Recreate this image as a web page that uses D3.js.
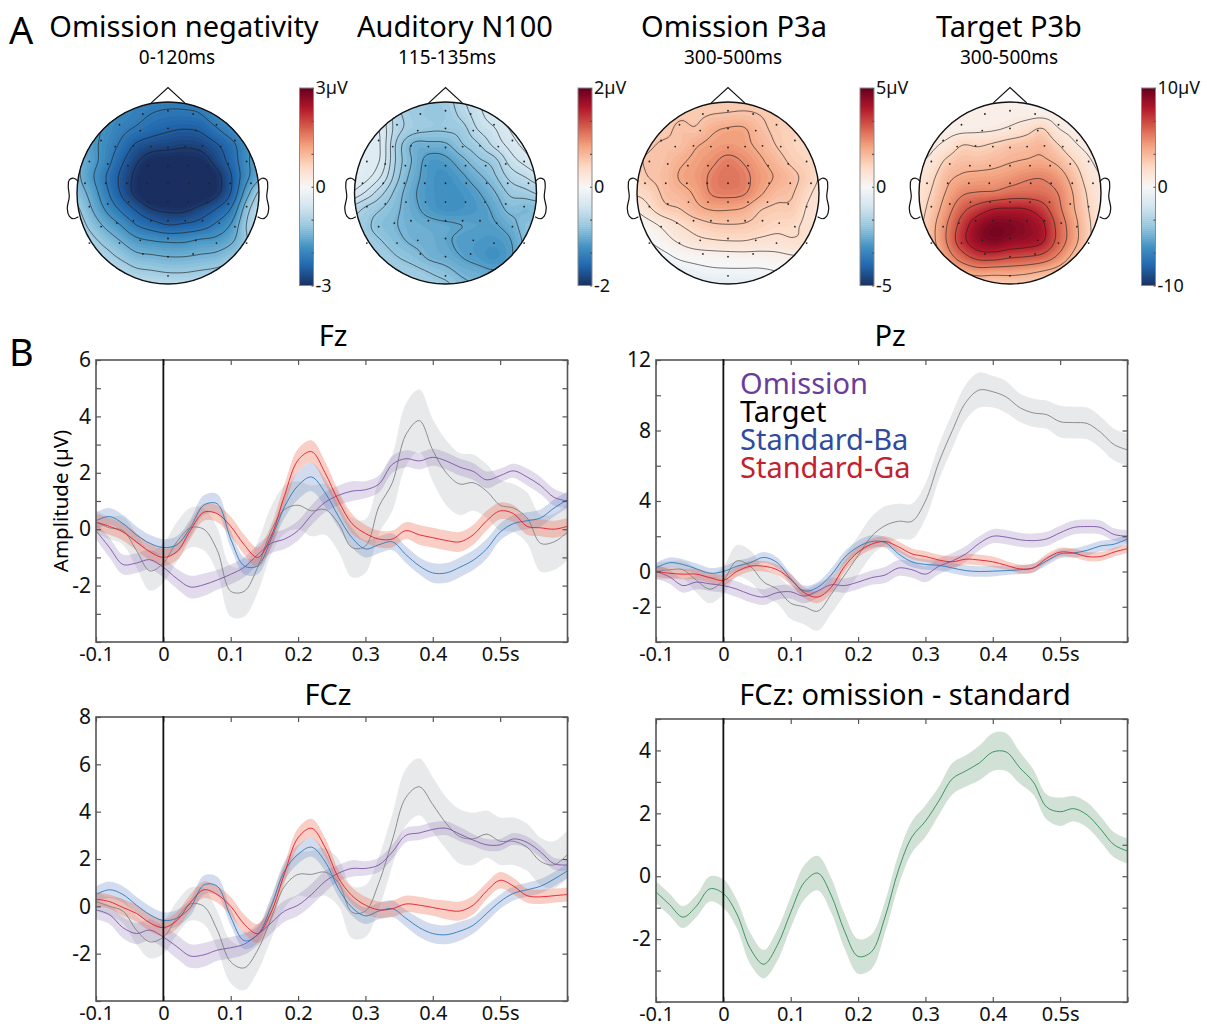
<!DOCTYPE html>
<html>
<head>
<meta charset="utf-8">
<script src="https://cdnjs.cloudflare.com/ajax/libs/d3/7.8.5/d3.min.js"></script>
<style>
  body { margin: 0; background: #fff; }
  svg { display: block; font-family: "Noto Sans", sans-serif; }
  .tick line { stroke: #555; stroke-width: 1.2; }
  .domain { display: none; }
  .tick text { fill: #111; }
</style>
</head>
<body>
<script>
// time base of the ERP panels (seconds)
const times = [-0.1,-0.08,-0.06,-0.04,-0.02,0,0.02,0.04,0.06,0.08,0.1,0.12,0.14,0.16,0.18,0.2,0.22,0.24,0.26,0.28,0.3,0.32,0.34,0.36,0.38,0.4,0.42,0.44,0.46,0.48,0.5,0.52,0.54,0.56,0.58,0.6];
const xTicks = [-0.1,0,0.1,0.2,0.3,0.4,0.5,0.6];
const xLabels = ["-0.1","0","0.1","0.2","0.3","0.4","0.5s",""];

// Fz
const fzOmission = [-0.05,-0.65,-1.25,-1.2,-1.08,-1.35,-1.75,-2.05,-1.97,-1.8,-1.6,-1.35,-0.9,-0.5,-0.35,-0.05,0.5,0.95,1.2,1.35,1.4,1.6,2.3,2.5,2.42,2.55,2.42,2.2,2.05,1.75,1.9,2.07,1.85,1.55,1.13,1.0];
const fzOmissionSe = [0.3,0.35,0.35,0.35,0.35,0.35,0.35,0.4,0.4,0.35,0.35,0.35,0.35,0.35,0.35,0.35,0.35,0.35,0.35,0.35,0.3,0.3,0.3,0.3,0.3,0.3,0.3,0.3,0.3,0.3,0.25,0.25,0.3,0.3,0.3,0.25];
const fzTarget = [0.25,0.05,-0.05,-0.75,-1.48,-1.2,-0.45,0.05,0.0,-0.75,-2.2,-2.2,-1.35,-0.05,0.7,0.85,0.65,0.7,0.2,-0.65,-0.6,0.8,1.65,3.35,3.85,2.8,2.0,1.6,1.65,1.35,0.85,0.75,0.4,-0.5,-0.45,-0.1];
const fzTargetSe = [0.4,0.4,0.5,0.6,0.7,0.7,0.7,0.7,0.75,0.8,0.9,0.9,0.9,0.85,0.85,0.85,0.9,0.9,1.0,1.05,0.95,0.95,1.0,1.1,1.1,1.1,1.15,1.1,1.0,0.95,0.9,0.85,0.9,1.0,1.0,1.0];
const fzBa = [0.3,0.45,0.2,-0.2,-0.5,-0.65,-0.55,0.05,0.85,0.9,-0.35,-1.3,-1.3,-0.35,0.8,1.55,1.85,1.3,0.45,-0.3,-0.7,-0.55,-0.45,-0.9,-1.3,-1.55,-1.55,-1.35,-1.1,-0.7,-0.1,0.2,0.3,0.4,0.75,1.05];
const fzBaSe = [0.3,0.3,0.3,0.3,0.3,0.3,0.3,0.3,0.35,0.35,0.3,0.3,0.3,0.3,0.4,0.5,0.5,0.5,0.4,0.35,0.3,0.3,0.3,0.3,0.3,0.35,0.35,0.35,0.35,0.35,0.3,0.3,0.3,0.3,0.3,0.3];
const fzGa = [0.25,0.1,-0.1,-0.45,-0.8,-1.0,-0.8,-0.05,0.6,0.55,0.1,-0.55,-1.0,-0.25,1.2,2.45,2.75,2.0,1.0,0.2,-0.15,-0.35,-0.35,-0.05,-0.2,-0.3,-0.4,-0.45,-0.2,0.3,0.65,0.55,0.1,0.05,0.0,0.1];
const fzGaSe = [0.3,0.3,0.3,0.3,0.3,0.3,0.3,0.3,0.3,0.3,0.35,0.35,0.35,0.4,0.4,0.4,0.4,0.4,0.35,0.35,0.3,0.3,0.3,0.3,0.35,0.35,0.35,0.35,0.35,0.35,0.3,0.3,0.3,0.3,0.3,0.3];

// Pz
const pzOmission = [0,-0.3,-0.8,-0.6,-0.7,-0.8,-1.0,-1.3,-1.45,-1.2,-1.15,-1.4,-1.1,-0.75,-0.8,-0.6,-0.35,-0.2,0.2,0.1,-0.15,0.3,0.6,1.0,1.6,2.0,1.95,1.8,1.75,1.85,2.2,2.5,2.55,2.5,2.1,2.0];
const pzOmissionSe = [0.4,0.4,0.4,0.4,0.4,0.4,0.45,0.45,0.45,0.4,0.4,0.4,0.4,0.4,0.4,0.4,0.4,0.45,0.45,0.45,0.45,0.45,0.45,0.45,0.4,0.4,0.4,0.4,0.4,0.4,0.4,0.4,0.4,0.4,0.35,0.35];
const pzTarget = [0,0.1,0.1,-0.5,-1.0,-0.5,0.6,0.3,-0.6,-1.0,-1.8,-2.0,-2.25,-1.3,-0.2,0.9,2.0,2.6,2.85,2.85,4.0,6.2,8.0,9.6,10.3,10.2,9.9,9.3,9.0,8.9,8.5,8.45,8.4,7.9,7.2,6.9];
const pzTargetSe = [0.5,0.5,0.5,0.7,0.8,0.8,0.9,0.9,0.8,0.8,0.9,1.0,1.1,1.1,1.1,1.1,1.1,1.1,1.0,1.0,1.0,1.0,1.0,1.0,1.0,0.9,0.9,0.8,0.8,0.8,0.9,0.9,0.9,0.9,0.9,0.9];
const pzBa = [0.2,0.5,0.4,0.15,-0.1,0,0.3,0.5,0.8,0.5,-0.4,-1.1,-0.9,-0.2,0.8,1.4,1.7,1.65,1.0,0.55,0.4,0.35,0.2,0.05,0,0.02,0.05,0.1,0.2,0.6,1.0,1.05,1.2,1.45,1.55,1.85];
const pzBaSe = [0.3,0.3,0.3,0.3,0.3,0.3,0.3,0.3,0.3,0.3,0.3,0.3,0.3,0.35,0.35,0.35,0.35,0.3,0.3,0.3,0.3,0.3,0.3,0.3,0.3,0.3,0.25,0.25,0.25,0.25,0.25,0.25,0.3,0.3,0.3,0.25];
const pzGa = [0,-0.1,-0.15,-0.15,-0.35,-0.5,0,0.3,0.3,0.1,-0.45,-1.2,-1.45,-0.9,0.3,1.1,1.55,1.7,1.4,1.0,0.85,0.65,0.55,0.7,0.65,0.55,0.35,0.15,0.2,0.75,1.1,1.05,0.85,0.85,1.1,1.3];
const pzGaSe = [0.3,0.3,0.3,0.3,0.3,0.3,0.3,0.3,0.3,0.3,0.3,0.3,0.35,0.35,0.3,0.3,0.3,0.3,0.3,0.3,0.3,0.3,0.3,0.3,0.3,0.3,0.25,0.25,0.25,0.25,0.25,0.25,0.25,0.25,0.25,0.25];

// FCz
const fczOmission = [-0.15,-0.35,-0.9,-1.15,-1.0,-1.3,-1.7,-2.1,-2.05,-1.85,-1.75,-1.6,-1.2,-0.7,-0.2,0.05,0.5,1.05,1.4,1.6,1.6,1.75,2.3,3.0,3.1,3.25,3.3,3.05,2.8,2.6,2.6,2.85,2.7,2.3,1.8,1.75];
const fczOmissionSe = [0.4,0.4,0.45,0.45,0.45,0.45,0.5,0.5,0.5,0.45,0.45,0.45,0.45,0.45,0.45,0.45,0.45,0.45,0.35,0.35,0.3,0.3,0.3,0.3,0.3,0.3,0.3,0.3,0.25,0.25,0.25,0.25,0.25,0.25,0.25,0.25];
const fczTarget = [0.2,0.0,-0.2,-1.0,-1.5,-1.3,-0.5,0.1,0.0,-1.0,-2.35,-2.6,-1.85,-0.5,0.85,1.35,1.35,1.45,1.0,-0.25,-0.2,1.0,2.8,4.6,5.05,4.3,3.5,2.95,2.85,3.05,2.75,2.75,2.5,1.9,1.75,2.2];
const fczTargetSe = [0.4,0.4,0.5,0.6,0.7,0.7,0.7,0.7,0.75,0.8,0.9,0.95,0.9,0.9,0.9,0.9,1.0,1.0,1.0,1.1,1.1,1.1,1.1,1.2,1.2,1.15,1.1,1.15,1.1,1.0,1.0,1.0,1.0,1.0,1.0,1.0];
const fczBa = [0.5,0.7,0.5,0.05,-0.35,-0.6,-0.5,-0.05,0.9,0.85,-0.45,-1.45,-1.2,0.0,1.5,2.2,2.5,1.9,0.75,-0.05,-0.4,-0.2,-0.1,-0.5,-0.9,-1.15,-1.2,-1.05,-0.8,-0.3,0.2,0.55,0.7,0.85,1.15,1.5];
const fczBaSe = [0.35,0.35,0.35,0.35,0.35,0.35,0.35,0.35,0.4,0.4,0.35,0.35,0.35,0.35,0.4,0.4,0.4,0.4,0.35,0.35,0.35,0.35,0.35,0.35,0.4,0.4,0.4,0.4,0.35,0.35,0.3,0.3,0.3,0.3,0.3,0.3];
const fczGa = [0.3,0.2,-0.05,-0.3,-0.7,-0.9,-0.6,0.15,0.7,0.5,0.0,-0.75,-1.15,-0.25,1.4,2.9,3.3,2.5,1.2,0.45,0.05,-0.15,-0.1,0.1,0.05,-0.05,-0.15,-0.2,0.05,0.65,1.1,0.85,0.45,0.4,0.45,0.5];
const fczGaSe = [0.3,0.3,0.35,0.35,0.35,0.35,0.35,0.35,0.35,0.35,0.4,0.4,0.4,0.4,0.4,0.4,0.4,0.4,0.35,0.35,0.35,0.35,0.35,0.35,0.35,0.35,0.4,0.4,0.4,0.35,0.35,0.35,0.3,0.3,0.3,0.3];

// FCz difference wave
const diffWave = [-0.5,-0.9,-1.3,-0.95,-0.4,-0.55,-1.2,-2.3,-2.8,-2.2,-1.15,-0.2,0.1,-0.6,-1.75,-2.55,-2.4,-1.3,0.2,1.25,1.75,2.4,3.1,3.35,3.6,3.95,3.95,3.45,3.0,2.2,2.05,2.15,1.95,1.5,1.0,0.8];
const diffWaveSe = [0.35,0.35,0.35,0.35,0.4,0.45,0.45,0.5,0.45,0.5,0.5,0.55,0.55,0.55,0.55,0.55,0.55,0.5,0.5,0.5,0.5,0.45,0.5,0.5,0.55,0.6,0.6,0.5,0.4,0.4,0.45,0.4,0.4,0.4,0.4,0.4];

// topographies, values on a 13x13 sheet over the head (row 0 = front)
const topoOmission = [
  [-2.05,-2.05,-2.05,-2.05,-2.05,-2.05,-2.05,-2.05,-2.05,-2.05,-2.05,-2.05,-2.05],
  [-1.75,-1.75,-1.85,-1.95,-2.05,-2.15,-2.2,-2.2,-2.15,-1.95,-1.85,-1.75,-1.75],
  [-1.55,-1.65,-1.85,-2.05,-2.2,-2.35,-2.45,-2.5,-2.45,-2.2,-1.95,-1.75,-1.55],
  [-1.45,-1.65,-1.9,-2.2,-2.55,-2.7,-2.75,-2.8,-2.75,-2.55,-2.25,-1.85,-1.55],
  [-1.35,-1.6,-1.95,-2.4,-2.8,-3.05,-3.1,-3.1,-3.05,-2.75,-2.35,-1.85,-1.5],
  [-1.3,-1.65,-2.1,-2.55,-2.95,-3.3,-3.4,-3.4,-3.3,-3.0,-2.5,-1.85,-1.45],
  [-1.2,-1.5,-2.0,-2.5,-2.95,-3.3,-3.4,-3.4,-3.25,-2.95,-2.45,-1.55,-0.9],
  [-0.95,-1.35,-1.8,-2.2,-2.55,-2.85,-2.95,-2.95,-2.75,-2.5,-2.1,-1.2,-0.7],
  [-0.8,-1.15,-1.5,-1.8,-2.15,-2.35,-2.5,-2.45,-2.35,-2.1,-1.75,-1.05,-0.7],
  [-0.75,-0.95,-1.2,-1.45,-1.7,-1.8,-1.85,-1.85,-1.75,-1.7,-1.5,-1.1,-0.8],
  [-0.75,-0.8,-0.95,-1.15,-1.35,-1.4,-1.45,-1.45,-1.4,-1.35,-1.2,-1.05,-0.85],
  [-0.7,-0.75,-0.8,-0.85,-1.0,-1.05,-1.1,-1.1,-1.05,-1.0,-0.9,-0.8,-0.75],
  [-0.65,-0.65,-0.65,-0.65,-0.7,-0.7,-0.7,-0.7,-0.7,-0.7,-0.65,-0.65,-0.65]
];
const topoN100 = [
  [-0.7,-0.7,-0.7,-0.74,-0.74,-0.74,-0.72,-0.55,-0.42,-0.3,-0.25,-0.2,-0.2],
  [-0.3,-0.3,-0.4,-0.62,-0.72,-0.76,-0.75,-0.6,-0.45,-0.32,-0.25,-0.2,-0.2],
  [-0.25,-0.25,-0.33,-0.6,-0.72,-0.76,-0.76,-0.72,-0.52,-0.42,-0.3,-0.22,-0.2],
  [-0.25,-0.25,-0.32,-0.7,-0.95,-0.97,-0.95,-0.8,-0.68,-0.5,-0.37,-0.27,-0.22],
  [-0.25,-0.25,-0.33,-0.7,-0.95,-1.15,-1.13,-0.98,-0.82,-0.72,-0.48,-0.36,-0.27],
  [-0.25,-0.27,-0.42,-0.75,-1.0,-1.17,-1.22,-1.12,-0.97,-0.82,-0.62,-0.52,-0.42],
  [-0.3,-0.42,-0.62,-0.85,-1.05,-1.18,-1.22,-1.2,-1.1,-0.95,-0.76,-0.7,-0.62],
  [-0.55,-0.68,-0.78,-0.9,-1.03,-1.15,-1.22,-1.2,-1.15,-1.05,-0.88,-0.9,-0.88],
  [-0.7,-0.75,-0.85,-0.92,-0.98,-1.02,-1.05,-1.08,-1.1,-1.1,-1.0,-0.85,-0.8],
  [-0.7,-0.72,-0.78,-0.88,-0.95,-0.98,-1.05,-1.12,-1.15,-1.17,-1.1,-0.88,-0.8],
  [-0.65,-0.68,-0.7,-0.78,-0.85,-0.95,-1.0,-1.08,-1.15,-1.22,-1.12,-0.92,-0.85],
  [-0.65,-0.65,-0.65,-0.68,-0.72,-0.78,-0.85,-0.95,-1.0,-1.05,-1.05,-0.95,-0.85],
  [-0.6,-0.6,-0.6,-0.62,-0.65,-0.7,-0.72,-0.85,-0.92,-0.95,-0.95,-0.95,-0.85]
];
const topoP3a = [
  [1.0,1.0,1.0,1.0,1.1,1.2,1.25,1.25,1.2,1.0,1.0,0.9,0.9],
  [1.2,1.2,1.2,1.3,1.3,1.38,1.42,1.45,1.38,1.25,1.1,1.0,1.0],
  [1.3,1.3,1.3,1.48,1.45,1.8,1.95,1.95,1.55,1.3,1.15,1.1,1.0],
  [1.2,1.35,1.45,1.5,1.85,2.05,2.15,2.05,1.75,1.4,1.15,1.0,0.95],
  [1.3,1.45,1.5,1.8,2.05,2.3,2.55,2.35,2.0,1.65,1.3,1.1,0.9],
  [1.1,1.4,1.55,1.95,2.15,2.5,2.75,2.55,2.15,1.85,1.55,1.2,0.8],
  [0.95,1.1,1.5,1.7,2.0,2.45,2.55,2.45,2.0,1.6,1.45,1.0,0.7],
  [0.4,0.8,1.25,1.4,1.75,1.95,1.95,1.85,1.45,1.3,1.28,0.85,0.65],
  [-0.1,0.2,0.55,0.9,1.15,1.33,1.38,1.35,1.2,1.05,1.0,0.8,0.65],
  [-0.3,-0.1,0.2,0.5,0.75,0.85,0.9,0.9,0.8,0.75,0.85,0.8,0.6],
  [-0.7,-0.5,-0.25,0.0,0.1,0.15,0.18,0.2,0.2,0.25,0.35,0.4,0.4],
  [-0.9,-0.85,-0.6,-0.45,-0.3,-0.22,-0.2,-0.2,-0.2,-0.13,0.0,0.0,0.1],
  [-1.0,-1.0,-1.0,-0.9,-0.75,-0.7,-0.65,-0.6,-0.5,-0.4,-0.3,-0.1,0.0]
];
const topoP3b = [
  [0.5,0.5,0.5,0.5,0.5,0.5,0.5,0.5,0.5,0.5,0.5,0.5,0.5],
  [0.5,0.5,0.5,0.55,0.6,0.6,0.6,0.6,0.6,0.5,0.5,0.5,0.5],
  [0.6,0.6,0.6,0.7,0.8,0.9,1.2,1.7,2.3,1.1,0.7,0.6,0.5],
  [0.8,0.8,1.3,2.2,2.1,2.4,2.8,3.0,3.3,2.3,1.2,0.7,0.6],
  [1.0,1.2,2.4,3.0,3.0,3.2,3.5,3.7,3.8,3.3,2.2,1.1,0.7],
  [1.2,1.8,3.2,3.8,4.0,4.1,4.4,4.8,4.9,4.3,3.0,1.5,0.9],
  [1.3,2.2,3.7,4.8,5.1,5.2,5.6,5.7,5.6,5.0,3.5,1.9,1.0],
  [1.4,2.6,4.3,6.0,7.0,7.8,7.9,7.8,7.0,5.4,3.7,2.1,1.1],
  [1.5,3.0,4.9,7.0,8.7,9.4,9.3,8.9,8.1,6.0,4.1,2.3,1.1],
  [1.5,3.0,5.0,7.3,8.8,9.3,8.9,8.6,8.0,6.0,4.1,2.3,1.1],
  [1.5,2.6,4.2,5.8,6.9,7.0,6.6,6.4,6.0,4.8,3.2,1.8,1.0],
  [1.4,2.0,2.9,3.6,4.1,4.0,4.0,3.8,3.4,2.9,1.9,1.2,0.9],
  [1.2,1.4,1.6,1.8,2.0,2.1,2.2,2.2,2.0,1.7,1.3,1.0,0.8]
];
const levelsOmission = [-2.85,-2.5,-2.15,-1.8,-1.45,-1.1];
const levelsN100 = [-1.08,-0.92,-0.78,-0.65,-0.52,-0.4,-0.3];
const levelsP3a = [2.4,1.9,1.4,0.9,0.4,-0.1];
const levelsP3b = [7.8,6.4,5,3.6,2.2,1.0];

// electrode positions in head radii, left side and midline
const electrodesLeft = [[-0.276,-0.868],[-0.533,-0.75],[-0.305,-0.686],[-0.735,-0.577],[-0.58,-0.51],[-0.379,-0.518],[-0.188,-0.51],[-0.864,-0.346],[-0.662,-0.32],[-0.441,-0.3],[-0.22,-0.3],[-0.912,-0.107],[-0.684,-0.107],[-0.452,-0.107],[-0.228,-0.107],[-0.864,0.15],[-0.662,0.12],[-0.434,0.1],[-0.22,0.1],[-0.735,0.37],[-0.5625,0.33],[-0.379,0.305],[-0.188,0.305],[-0.864,0.55],[-0.533,0.55],[-0.305,0.52],[-0.276,0.67]];
const electrodesMid = [[0,-0.904],[0,-0.71],[0,-0.5],[0,-0.3],[0,-0.107],[0,0.1],[0,0.305],[0,0.5],[0,0.7],[0,0.91]];
const earOutline = [[-0.985,-0.125],[-1.033,-0.162],[-1.085,-0.143],[-1.096,-0.07],[-1.085,0.04],[-1.107,0.169],[-1.085,0.254],[-1.04,0.283],[-0.985,0.261]];
const noseOutline = [[-0.184,-0.99],[0,-1.158],[0.184,-0.99]];

const colorStops = ["#1a2f60","#2166ac","#4393c3","#92c5de","#d1e5f0","#f7f7f7","#fddbc7","#f4a582","#d6604d","#b2182b","#67001f"];

const w = 1207, h = 1026;
const svg = d3.select("body").append("svg").attr("width", w).attr("height", h);

svg.append("text").text("A").attr("x", 9).attr("y", 44).attr("font-size", 38);
svg.append("text").text("B").attr("x", 9).attr("y", 366).attr("font-size", 38);

// ---------- topographies ----------
const sheet = 1.05, gridN = 13, zoomBy = 6;

function upsample(rows) {
    // catmull-rom over the coarse sheet so the contours come out round
    const n = (gridN - 1) * zoomBy + 1;
    const out = new Array(n * n);
    const cr = (a, b, c, d, t) => 0.5 * (2*b + (c-a)*t + (2*a-5*b+4*c-d)*t*t + (3*b-a-3*c+d)*t*t*t);
    const at = (r, c) => rows[Math.max(0, Math.min(gridN-1, r))][Math.max(0, Math.min(gridN-1, c))];
    for (let j = 0; j < n; j++) {
        const r = Math.floor(j / zoomBy), tr = j / zoomBy - r;
        for (let i = 0; i < n; i++) {
            const c = Math.floor(i / zoomBy), tc = i / zoomBy - c;
            const col = [-1,0,1,2].map(k => cr(at(r+k,c-1), at(r+k,c), at(r+k,c+1), at(r+k,c+2), tc));
            out[j*n+i] = cr(col[0], col[1], col[2], col[3], tr);
        }
    }
    return {n: n, values: out};
}

function drawTopo(o) {
    const R = 91, cy = 193;
    const color = d3.scaleLinear()
        .domain(d3.range(11).map(i => -o.max + i * o.max / 5))
        .range(colorStops)
        .clamp(true);

    svg.append("text").text(o.title).attr("x", o.titleX).attr("y", 37)
        .attr("text-anchor", "middle").attr("font-size", 29);
    svg.append("text").text(o.sub).attr("x", o.subX).attr("y", 64)
        .attr("text-anchor", "middle").attr("font-size", 19);

    const f = upsample(o.grid);
    const gx = d3.scaleLinear().domain([0.5, f.n - 0.5]).range([o.cx - sheet*R, o.cx + sheet*R]);
    const gy = d3.scaleLinear().domain([0.5, f.n - 0.5]).range([cy - sheet*R, cy + sheet*R]);
    const path = d3.geoPath(d3.geoTransform({
        point: function(x, y) { this.stream.point(gx(x), gy(y)); }
    }));
    const contours = d3.contours().size([f.n, f.n]);

    const clipId = "clip" + Math.round(o.cx);
    svg.append("clipPath").attr("id", clipId)
        .append("circle").attr("cx", o.cx).attr("cy", cy).attr("r", R);
    const head = svg.append("g").attr("clip-path", "url(#" + clipId + ")");

    const step = o.max / 40;
    const fills = d3.range(-o.max - step * 4, o.max + step * 4, step);
    head.append("circle").attr("cx", o.cx).attr("cy", cy).attr("r", R).attr("fill", color(-o.max));
    head.selectAll("path.fill")
        .data(contours.thresholds(fills)(f.values))
        .enter().append("path")
        .attr("class", "fill")
        .attr("d", path)
        .attr("fill", d => color(d.value + step / 2));
    head.selectAll("path.line")
        .data(contours.thresholds(o.levels)(f.values))
        .enter().append("path")
        .attr("class", "line")
        .attr("d", path)
        .attr("fill", "none")
        .attr("stroke", "#1f1f1f")
        .attr("stroke-width", 0.7)
        .attr("stroke-opacity", 0.9);

    const hx = d3.scaleLinear().domain([-1, 1]).range([o.cx - R, o.cx + R]);
    const hy = d3.scaleLinear().domain([-1, 1]).range([cy - R, cy + R]);

    const electrodes = electrodesLeft.concat(electrodesLeft.map(d => [-d[0], d[1]]), electrodesMid);
    svg.append("g").selectAll("circle")
        .data(electrodes)
        .enter().append("circle")
        .attr("cx", d => hx(d[0]))
        .attr("cy", d => hy(d[1]))
        .attr("r", 0.9)
        .attr("fill", "#222");

    svg.append("circle").attr("cx", o.cx).attr("cy", cy).attr("r", R)
        .attr("fill", "none").attr("stroke", "#111").attr("stroke-width", 1.4);
    const line = d3.line().x(d => hx(d[0])).y(d => hy(d[1]));
    svg.append("path").attr("d", line(noseOutline))
        .attr("fill", "none").attr("stroke", "#111").attr("stroke-width", 1.2);
    [1, -1].forEach(side => {
        svg.append("path")
            .attr("d", line.curve(d3.curveCatmullRom)(earOutline.map(d => [side * d[0], d[1]])))
            .attr("fill", "none").attr("stroke", "#111").attr("stroke-width", 1.2);
    });

    // colour bar
    const barW = 14, barTop = 88, barBottom = 285.5;
    const by = d3.scaleLinear().domain([-o.max, o.max]).range([barBottom, barTop]);
    const bar = svg.append("g").attr("transform", "translate(" + o.barX + ",0)");
    bar.selectAll("rect")
        .data(d3.range(-o.max, o.max, o.max / 50))
        .enter().append("rect")
        .attr("x", 0)
        .attr("y", d => by(d + o.max / 50))
        .attr("width", barW)
        .attr("height", d => by(d) - by(d + o.max / 50) + 0.5)
        .attr("fill", d => color(d + o.max / 100));
    bar.append("rect").attr("width", barW).attr("y", barTop).attr("height", barBottom - barTop)
        .attr("fill", "none").attr("stroke", "#8a8a8a").attr("stroke-width", 1);
    const barAxis = bar.append("g").attr("transform", "translate(" + barW + ",0)")
        .call(d3.axisRight(by)
            .tickValues(d3.range(7).map(i => -o.max + i * o.max / 3))
            .tickSize(-2)
            .tickPadding(2)
            .tickFormat((d, i) => i === 6 ? o.max + "µV" : i === 3 ? "0" : i === 0 ? "-" + o.max : ""));
    barAxis.attr("font-size", 18).attr("font-family", null);
}

drawTopo({title: "Omission negativity", titleX: 184, sub: "0-120ms", subX: 177, cx: 168, max: 3, barX: 299.5, grid: topoOmission, levels: levelsOmission});
drawTopo({title: "Auditory N100", titleX: 455, sub: "115-135ms", subX: 447, cx: 445.5, max: 2, barX: 578, grid: topoN100, levels: levelsN100});
drawTopo({title: "Omission P3a", titleX: 734, sub: "300-500ms", subX: 733, cx: 728, max: 5, barX: 860, grid: topoP3a, levels: levelsP3a});
drawTopo({title: "Target P3b", titleX: 1009, sub: "300-500ms", subX: 1009, cx: 1010, max: 10, barX: 1141.5, grid: topoP3b, levels: levelsP3b});

// ---------- ERP panels ----------
const styles = {
    omission: {line: "#7d55a6", band: "#7f62ad", op: 0.23},
    target: {line: "#808285", band: "#a7a9ac", op: 0.26},
    ba: {line: "#2b7bba", band: "#5a7fc0", op: 0.27},
    ga: {line: "#e8192c", band: "#ec6a4e", op: 0.33},
    diff: {line: "#2e8b57", band: "#7aa88a", op: 0.35}
};

function drawPanel(o) {
    const x = d3.scaleLinear().domain([-0.1, 0.6]).range([o.left, o.left + 471.5]);
    const y = d3.scaleLinear().domain(o.domain).range([o.bottom, o.top]);
    const g = svg.append("g");

    svg.append("text").text(o.title).attr("x", o.titleX).attr("y", o.titleY)
        .attr("text-anchor", "middle").attr("font-size", 29);

    const area = d3.area().x((d, i) => x(times[i]))
        .y0(d => y(d[0] - d[1])).y1(d => y(d[0] + d[1]))
        .curve(d3.curveCatmullRom);
    const line = d3.line().x((d, i) => x(times[i])).y(d => y(d)).curve(d3.curveCatmullRom);

    o.series.forEach(s => {
        g.append("path")
            .attr("d", area(s.values.map((v, i) => [v, s.se[i]])))
            .attr("fill", styles[s.style].band)
            .attr("fill-opacity", styles[s.style].op);
    });
    o.series.forEach(s => {
        g.append("path")
            .attr("d", line(s.values))
            .attr("fill", "none")
            .attr("stroke", styles[s.style].line)
            .attr("stroke-width", 0.9);
    });

    g.append("g").attr("transform", "translate(0," + o.bottom + ")")
        .call(d3.axisBottom(x).tickValues(xTicks).tickFormat((d, i) => xLabels[i]).tickSize(-5).tickPadding(5))
        .attr("font-size", 20).attr("font-family", null);
    g.append("g").attr("transform", "translate(0," + o.top + ")")
        .call(d3.axisTop(x).tickValues(xTicks).tickFormat("").tickSize(-5));
    g.append("g").attr("transform", "translate(" + o.left + ",0)")
        .call(d3.axisLeft(y).tickValues(o.yTicks).tickFormat(d => o.yLabels.includes(d) ? d : "").tickSize(-5).tickPadding(5))
        .attr("font-size", 21).attr("font-family", null);
    g.append("g").attr("transform", "translate(" + (o.left + 471.5) + ",0)")
        .call(d3.axisRight(y).tickValues(o.yTicks).tickFormat("").tickSize(-5));

    g.append("rect").attr("x", o.left).attr("y", o.top)
        .attr("width", 471.5).attr("height", o.bottom - o.top)
        .attr("fill", "none").attr("stroke", "#555").attr("stroke-width", 1.6);
    g.append("line").attr("x1", x(0)).attr("x2", x(0)).attr("y1", o.top - 1).attr("y2", o.bottom)
        .attr("stroke", "#111").attr("stroke-width", 1.8);
}

drawPanel({
    title: "Fz", titleX: 333, titleY: 346, left: 96, top: 360, bottom: 642, domain: [-4, 6],
    yTicks: d3.range(-4, 7), yLabels: [-2, 0, 2, 4, 6],
    series: [
        {style: "target", values: fzTarget, se: fzTargetSe},
        {style: "omission", values: fzOmission, se: fzOmissionSe},
        {style: "ba", values: fzBa, se: fzBaSe},
        {style: "ga", values: fzGa, se: fzGaSe}
    ]
});
drawPanel({
    title: "Pz", titleX: 890, titleY: 346, left: 656, top: 360, bottom: 642, domain: [-4, 12],
    yTicks: d3.range(-4, 13, 2), yLabels: [-2, 0, 4, 8, 12],
    series: [
        {style: "target", values: pzTarget, se: pzTargetSe},
        {style: "omission", values: pzOmission, se: pzOmissionSe},
        {style: "ba", values: pzBa, se: pzBaSe},
        {style: "ga", values: pzGa, se: pzGaSe}
    ]
});
drawPanel({
    title: "FCz", titleX: 328, titleY: 705, left: 96, top: 717, bottom: 1001, domain: [-4, 8],
    yTicks: d3.range(-4, 9, 2), yLabels: [-2, 0, 2, 4, 6, 8],
    series: [
        {style: "target", values: fczTarget, se: fczTargetSe},
        {style: "omission", values: fczOmission, se: fczOmissionSe},
        {style: "ba", values: fczBa, se: fczBaSe},
        {style: "ga", values: fczGa, se: fczGaSe}
    ]
});
drawPanel({
    title: "FCz: omission - standard", titleX: 905, titleY: 705, left: 656, top: 719, bottom: 1002, domain: [-4, 5],
    yTicks: d3.range(-4, 6), yLabels: [-2, 0, 2, 4],
    series: [{style: "diff", values: diffWave, se: diffWaveSe}]
});

svg.append("text").text("Amplitude (µV)")
    .attr("transform", "translate(68,501)rotate(-90)")
    .attr("text-anchor", "middle").attr("font-size", 20.5);

// legend
const legendNames = ["Omission", "Target", "Standard-Ba", "Standard-Ga"];
const legendColors = ["#6a3d9a", "#000000", "#2e4b9e", "#c4202f"];
svg.append("g").selectAll("text")
    .data(legendNames)
    .enter().append("text")
    .text(d => d)
    .attr("x", 740)
    .attr("y", (d, i) => 394 + i * 28)
    .attr("font-size", 29)
    .attr("fill", (d, i) => legendColors[i]);
</script>
</body>
</html>
